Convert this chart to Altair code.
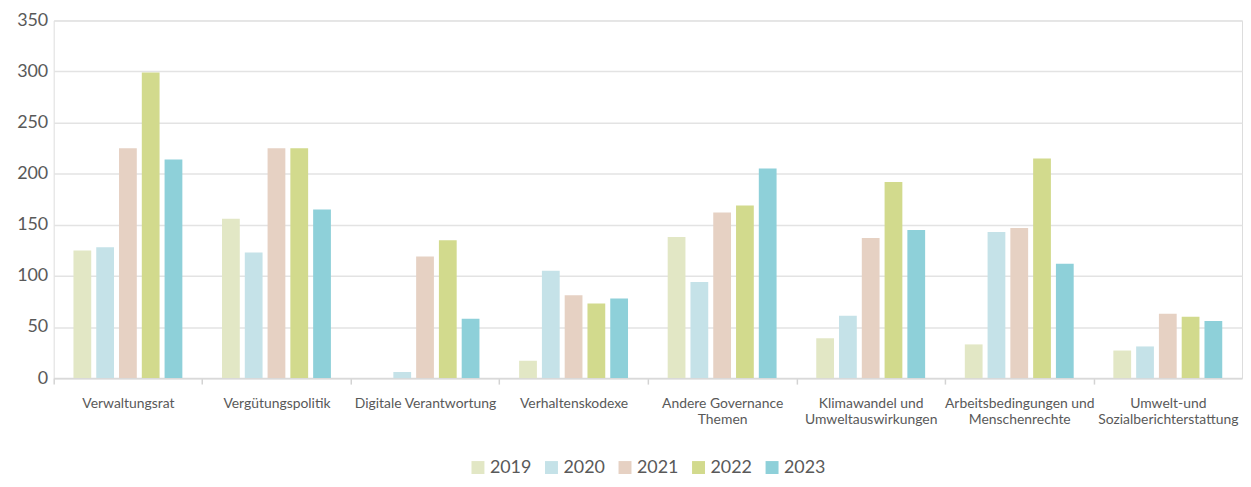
import altair as alt
import pandas as pd

categories = [
    "Verwaltungsrat",
    "Vergütungspolitik",
    "Digitale Verantwortung",
    "Verhaltenskodexe",
    "Andere Governance\nThemen",
    "Klimawandel und\nUmweltauswirkungen",
    "Arbeitsbedingungen und\nMenschenrechte",
    "Umwelt-und\nSozialberichterstattung",
]
years = ["2019", "2020", "2021", "2022", "2023"]
v2019 = [125, 156, 0, 17, 138, 39, 33, 27]
v2020 = [128, 123, 6, 105, 94, 61, 143, 31]
v2021 = [225, 225, 119, 81, 162, 137, 147, 63]
v2022 = [299, 225, 135, 73, 169, 192, 215, 60]
v2023 = [214, 165, 58, 78, 205, 145, 112, 56]
colors = ["#E2E7C5", "#C5E2E8", "#E6D1C3", "#D2DA8D", "#8ED0D9"]

series = [v2019, v2020, v2021, v2022, v2023]
rows = []
for y, vals in zip(years, series):
    for c, v in zip(categories, vals):
        rows.append({"Kategorie": c, "Jahr": y, "Wert": v})
df = pd.DataFrame(rows)

FONT = "Lato"
TXT = "#595959"

chart = (
    alt.Chart(df)
    .mark_bar()
    .encode(
        x=alt.X(
            "Kategorie:N",
            sort=categories,
            title=None,
            scale=alt.Scale(paddingInner=0.267, paddingOuter=0.133),
            axis=alt.Axis(
                labelAngle=0,
                labelExpr="split(datum.label, '\\n')",
                labelFont=FONT,
                labelFontSize=14,
                labelColor=TXT,
                labelPadding=13,
                labelLineHeight=16,
                labelOffset=74.75,
                ticks=True,
                tickOffset=-74.75,
                tickSize=6,
                tickColor="#D3D3D3",
                tickWidth=1.5,
                domainColor="#D9D9D9",
                domainWidth=2,
                grid=False,
            ),
        ),
        xOffset=alt.XOffset(
            "Jahr:N", sort=years,
            scale=alt.Scale(paddingInner=0.22, paddingOuter=0),
        ),
        y=alt.Y(
            "Wert:Q",
            title=None,
            scale=alt.Scale(domain=[0, 350], nice=False),
            axis=alt.Axis(
                values=[0, 50, 100, 150, 200, 250, 300, 350],
                labelFont=FONT,
                labelFontSize=18,
                labelColor=TXT,
                labelPadding=6,
                domain=False,
                ticks=False,
                gridColor="#E3E3E3",
                gridWidth=1.5,
            ),
        ),
        color=alt.Color(
            "Jahr:N",
            sort=years,
            scale=alt.Scale(domain=years, range=colors),
            legend=alt.Legend(
                orient="none",
                legendX=418,
                legendY=441,
                direction="horizontal",
                title=None,
                symbolType="square",
                symbolSize=170,
                symbolStrokeWidth=0,
                labelFont=FONT,
                labelFontSize=18,
                labelColor=TXT,
                labelOffset=3,
                columnPadding=11,
            ),
        ),
        tooltip=["Kategorie", "Jahr", "Wert"],
    )
    .properties(
        width=1196,
        height=360,
        autosize=alt.AutoSizeParams(type="none"),
        padding={"left": 46, "top": 11, "right": 1, "bottom": 99},
    )
    .configure_view(stroke=None)
    .configure(background="white")
)

chart.save("out.html", embed_options={"renderer": "svg", "actions": False})
